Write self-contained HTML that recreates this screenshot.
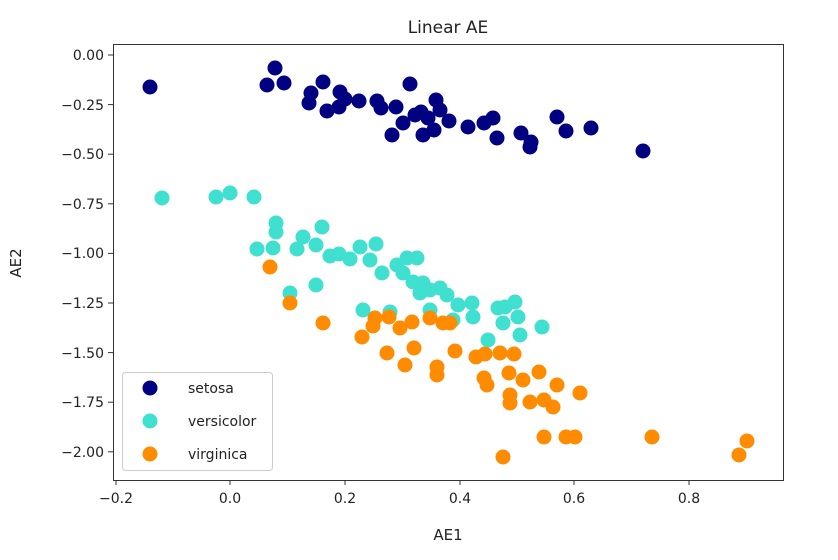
<!DOCTYPE html>
<html><head><meta charset="utf-8"><style>body{margin:0;background:#fff}svg{display:block}text{font-family:"DejaVu Sans","Liberation Sans",sans-serif;fill:#222}</style></head>
<body>
<svg width="838" height="560" xmlns="http://www.w3.org/2000/svg">
<rect width="838" height="560" fill="#fff"/>
<text x="448" y="33" font-size="17" text-anchor="middle">Linear AE</text>
<g id="pts">
<g fill="#000080">
<circle cx="150" cy="87" r="7.5"/><circle cx="275" cy="68" r="7.5"/><circle cx="267" cy="85" r="7.5"/><circle cx="284" cy="83" r="7.5"/><circle cx="311" cy="93" r="7.5"/><circle cx="309" cy="103" r="7.5"/><circle cx="323" cy="82" r="7.5"/><circle cx="327" cy="111" r="7.5"/><circle cx="340" cy="92" r="7.5"/><circle cx="339" cy="107" r="7.5"/><circle cx="345" cy="99" r="7.5"/><circle cx="359" cy="101" r="7.5"/><circle cx="377" cy="101" r="7.5"/><circle cx="381" cy="108" r="7.5"/><circle cx="396" cy="107" r="7.5"/><circle cx="410" cy="84" r="7.5"/><circle cx="403" cy="123" r="7.5"/><circle cx="392" cy="135" r="7.5"/><circle cx="421" cy="112" r="7.5"/><circle cx="423" cy="135" r="7.5"/><circle cx="436" cy="100" r="7.5"/><circle cx="440" cy="110" r="7.5"/><circle cx="434" cy="130" r="7.5"/><circle cx="415" cy="115" r="7.5"/><circle cx="428" cy="118" r="7.5"/><circle cx="449" cy="121" r="7.5"/><circle cx="468" cy="127" r="7.5"/><circle cx="484" cy="123" r="7.5"/><circle cx="493" cy="118" r="7.5"/><circle cx="497" cy="138" r="7.5"/><circle cx="521" cy="133" r="7.5"/><circle cx="530" cy="147" r="7.5"/><circle cx="531" cy="142" r="7.5"/><circle cx="557" cy="117" r="7.5"/><circle cx="566" cy="131" r="7.5"/><circle cx="591" cy="128" r="7.5"/><circle cx="643" cy="151" r="7.5"/>
</g>
<g fill="#40e0d0">
<circle cx="162" cy="198" r="7.5"/><circle cx="216" cy="197" r="7.5"/><circle cx="230" cy="193" r="7.5"/><circle cx="254" cy="197" r="7.5"/><circle cx="276" cy="223" r="7.5"/><circle cx="276" cy="232" r="7.5"/><circle cx="257" cy="249" r="7.5"/><circle cx="273" cy="248" r="7.5"/><circle cx="303" cy="237" r="7.5"/><circle cx="322" cy="227" r="7.5"/><circle cx="297" cy="249" r="7.5"/><circle cx="316" cy="245" r="7.5"/><circle cx="330" cy="256" r="7.5"/><circle cx="339" cy="254" r="7.5"/><circle cx="350" cy="259" r="7.5"/><circle cx="360" cy="247" r="7.5"/><circle cx="376" cy="244" r="7.5"/><circle cx="370" cy="260" r="7.5"/><circle cx="382" cy="273" r="7.5"/><circle cx="397" cy="265" r="7.5"/><circle cx="407" cy="258" r="7.5"/><circle cx="417" cy="258" r="7.5"/><circle cx="403" cy="273" r="7.5"/><circle cx="413" cy="282" r="7.5"/><circle cx="423" cy="283" r="7.5"/><circle cx="420" cy="293" r="7.5"/><circle cx="430" cy="290" r="7.5"/><circle cx="440" cy="288" r="7.5"/><circle cx="447" cy="295" r="7.5"/><circle cx="458" cy="305" r="7.5"/><circle cx="472" cy="303" r="7.5"/><circle cx="473" cy="317" r="7.5"/><circle cx="498" cy="308" r="7.5"/><circle cx="515" cy="302" r="7.5"/><circle cx="518" cy="317" r="7.5"/><circle cx="503" cy="323" r="7.5"/><circle cx="520" cy="335" r="7.5"/><circle cx="542" cy="327" r="7.5"/><circle cx="488" cy="340" r="7.5"/><circle cx="316" cy="285" r="7.5"/><circle cx="290" cy="293" r="7.5"/><circle cx="363" cy="310" r="7.5"/><circle cx="390" cy="312" r="7.5"/><circle cx="430" cy="310" r="7.5"/><circle cx="453" cy="320" r="7.5"/><circle cx="505" cy="307" r="7.5"/>
</g>
<g fill="#ff8c00">
<circle cx="270" cy="267" r="7.5"/><circle cx="290" cy="303" r="7.5"/><circle cx="323" cy="323" r="7.5"/><circle cx="362" cy="337" r="7.5"/><circle cx="375" cy="318" r="7.5"/><circle cx="373" cy="326" r="7.5"/><circle cx="389" cy="317" r="7.5"/><circle cx="400" cy="328" r="7.5"/><circle cx="412" cy="322" r="7.5"/><circle cx="430" cy="318" r="7.5"/><circle cx="443" cy="323" r="7.5"/><circle cx="450" cy="323" r="7.5"/><circle cx="387" cy="353" r="7.5"/><circle cx="405" cy="365" r="7.5"/><circle cx="414" cy="348" r="7.5"/><circle cx="437" cy="367" r="7.5"/><circle cx="437" cy="375" r="7.5"/><circle cx="455" cy="351" r="7.5"/><circle cx="476" cy="357" r="7.5"/><circle cx="485" cy="354" r="7.5"/><circle cx="500" cy="353" r="7.5"/><circle cx="514" cy="354" r="7.5"/><circle cx="484" cy="378" r="7.5"/><circle cx="487" cy="385" r="7.5"/><circle cx="509" cy="373" r="7.5"/><circle cx="523" cy="380" r="7.5"/><circle cx="539" cy="372" r="7.5"/><circle cx="557" cy="385" r="7.5"/><circle cx="580" cy="393" r="7.5"/><circle cx="510" cy="403" r="7.5"/><circle cx="510" cy="395" r="7.5"/><circle cx="530" cy="402" r="7.5"/><circle cx="544" cy="400" r="7.5"/><circle cx="553" cy="407" r="7.5"/><circle cx="544" cy="437" r="7.5"/><circle cx="566" cy="437" r="7.5"/><circle cx="575" cy="437" r="7.5"/><circle cx="652" cy="437" r="7.5"/><circle cx="747" cy="441" r="7.5"/><circle cx="739" cy="455" r="7.5"/><circle cx="503" cy="457" r="7.5"/>
</g>
</g>
<rect x="113.5" y="44.5" width="670" height="436" fill="none" stroke="#333" stroke-width="1"/>
<g stroke="#333">
<line x1="116" y1="480" x2="116" y2="485"/><line x1="230" y1="480" x2="230" y2="485"/><line x1="345" y1="480" x2="345" y2="485"/><line x1="460" y1="480" x2="460" y2="485"/><line x1="574" y1="480" x2="574" y2="485"/><line x1="689" y1="480" x2="689" y2="485"/>
<line x1="108" y1="55" x2="113" y2="55"/><line x1="108" y1="104.6" x2="113" y2="104.6"/><line x1="108" y1="154.2" x2="113" y2="154.2"/><line x1="108" y1="203.8" x2="113" y2="203.8"/><line x1="108" y1="253.4" x2="113" y2="253.4"/><line x1="108" y1="303" x2="113" y2="303"/><line x1="108" y1="352.6" x2="113" y2="352.6"/><line x1="108" y1="402.2" x2="113" y2="402.2"/><line x1="108" y1="451.8" x2="113" y2="451.8"/>
</g>
<g font-size="14" text-anchor="middle">
<text x="116" y="503">−0.2</text><text x="230" y="503">0.0</text><text x="345" y="503">0.2</text><text x="460" y="503">0.4</text><text x="574" y="503">0.6</text><text x="689" y="503">0.8</text>
</g>
<g font-size="14" text-anchor="end">
<text x="104" y="60">0.00</text><text x="104" y="110">−0.25</text><text x="104" y="159">−0.50</text><text x="104" y="209">−0.75</text><text x="104" y="258">−1.00</text><text x="104" y="308">−1.25</text><text x="104" y="358">−1.50</text><text x="104" y="407">−1.75</text><text x="104" y="457">−2.00</text>
</g>
<text x="448" y="540" font-size="15" text-anchor="middle">AE1</text>
<text x="21" y="263" font-size="15" text-anchor="middle" transform="rotate(-90 21 263)">AE2</text>
<rect x="122.5" y="372.5" width="150" height="98" rx="3" fill="#fff" fill-opacity="0.85" stroke="#ccc"/>
<circle cx="150" cy="388" r="7.5" fill="#000080"/>
<circle cx="150" cy="421" r="7.5" fill="#40e0d0"/>
<circle cx="150" cy="454" r="7.5" fill="#ff8c00"/>
<g font-size="14"><text x="188" y="393">setosa</text><text x="188" y="426">versicolor</text><text x="188" y="459">virginica</text></g>
</svg>
</body></html>
